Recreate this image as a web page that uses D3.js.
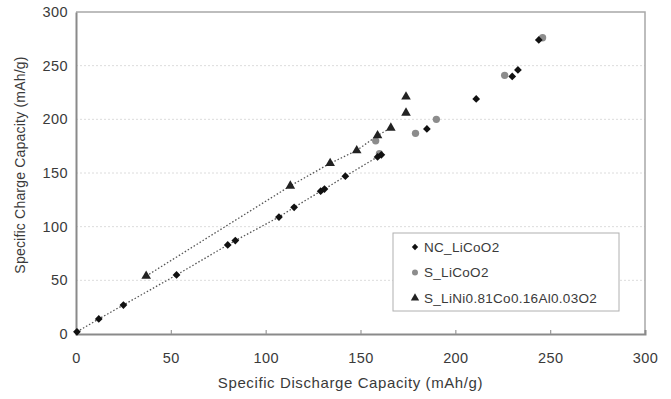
<!DOCTYPE html>
<html>
<head>
<meta charset="utf-8">
<script src="https://cdn.jsdelivr.net/npm/d3@7"></script>
<style>
  body { margin: 0; background: #fff; }
  svg { font-family: "Liberation Sans", Arial, sans-serif; }
</style>
</head>
<body>
<svg id="chart" width="671" height="399"></svg>
<script>
// NC_LiCoO2 (black diamonds)
const ncDischarge = [0.5, 12, 25, 53, 80, 84, 107, 115, 129, 131, 142, 159, 161, 185, 211, 230, 233, 244];
const ncCharge    = [2, 14, 27, 55, 83, 87, 109, 118, 133, 135, 147, 165, 167, 191, 219, 240, 246, 274];
const ncTrendCount = 13;

// S_LiCoO2 (grey circles)
const sDischarge = [158, 160, 179, 190, 226, 246];
const sCharge    = [180, 168, 187, 200, 241, 276];

// S_LiNi0.81Co0.16Al0.03O2 (black triangles)
const nDischarge = [37, 113, 134, 148, 159, 166, 174, 174];
const nCharge    = [54, 138, 159, 171, 185, 192, 206, 221];
const nTrendCount = 6;

const xTicks = [0, 50, 100, 150, 200, 250, 300];
const yTicks = [0, 50, 100, 150, 200, 250, 300];

const seriesNames = ["NC_LiCoO2", "S_LiCoO2", "S_LiNi0.81Co0.16Al0.03O2"];

const margins = {left: 76, top: 12, right: 26, bottom: 65};
const width = 671, height = 399;

const svg = d3.select("#chart");

const scaleX = d3.scaleLinear()
    .domain([0, 300])
    .range([margins.left, width - margins.right]);

const scaleY = d3.scaleLinear()
    .domain([0, 300])
    .range([height - margins.bottom, margins.top]);

// horizontal gridlines
svg.append("g")
    .selectAll("line")
    .data(yTicks.slice(1, -1))
    .enter()
    .append("line")
    .attr("x1", scaleX(0))
    .attr("x2", scaleX(300))
    .attr("y1", d => scaleY(d))
    .attr("y2", d => scaleY(d))
    .style("stroke", "#dcdcdc")
    .style("stroke-dasharray", "2,2");

// plot frame (top, right)
svg.append("path")
    .attr("d", `M${scaleX(0)},${scaleY(300)}H${scaleX(300)}V${scaleY(0)}`)
    .style("fill", "none")
    .style("stroke", "#a8a8a8")
    .style("stroke-width", 1.5);

// axes
const xAxis = d3.axisBottom(scaleX).tickValues(xTicks).tickSize(-4).tickPadding(19);
const yAxis = d3.axisLeft(scaleY).tickValues(yTicks).tickSize(0).tickPadding(8);

const gx = svg.append("g")
    .attr("transform", `translate(0, ${scaleY(0)})`)
    .call(xAxis);
const gy = svg.append("g")
    .attr("transform", `translate(${scaleX(0)}, 0)`)
    .call(yAxis);

[gx, gy].forEach(g => {
    g.select(".domain").style("stroke", "#8a8a8a").style("stroke-width", 2);
    g.selectAll(".tick line").style("stroke", "#9a9a9a").style("stroke-width", 1.2);
    g.selectAll(".tick text")
        .style("font-size", "14.5px")
        .style("letter-spacing", "0.4px")
        .style("fill", "#3a3a3a")
        .style("font-family", "Liberation Sans, Arial, sans-serif");
});
gx.selectAll(".tick").filter(d => d === 0 || d === 300).select("line").remove();

// axis titles
svg.append("text")
    .attr("x", (scaleX(0) + scaleX(300)) / 2 - 10)
    .attr("y", 388)
    .attr("text-anchor", "middle")
    .style("font-size", "15px")
    .style("letter-spacing", "0.6px")
    .style("fill", "#3a3a3a")
    .text("Specific Discharge Capacity (mAh/g)");

svg.append("text")
    .attr("transform", `translate(25, 165) rotate(-90)`)
    .attr("text-anchor", "middle")
    .style("font-size", "14px")
    .style("letter-spacing", "0.2px")
    .style("fill", "#3a3a3a")
    .text("Specific Charge Capacity (mAh/g)");

// dotted trend lines
const line = d3.line()
    .x(d => scaleX(d[0]))
    .y(d => scaleY(d[1]));

const ncPoints = d3.zip(ncDischarge, ncCharge);
const sPoints = d3.zip(sDischarge, sCharge);
const nPoints = d3.zip(nDischarge, nCharge);

[ncPoints.slice(0, ncTrendCount), nPoints.slice(0, nTrendCount)].forEach(pts => {
    svg.append("path")
        .datum(pts)
        .attr("d", line)
        .style("fill", "none")
        .style("stroke", "#555")
        .style("stroke-width", 1.3)
        .style("stroke-dasharray", "1.5,2");
});

// markers
const diamond = d3.symbol().type(d3.symbolSquare).size(30);
const circle = d3.symbol().type(d3.symbolCircle).size(42);
const triangle = d3.symbol().type(d3.symbolTriangle).size(40);

svg.append("g").selectAll("path")
    .data(sPoints)
    .enter()
    .append("path")
    .attr("d", circle)
    .attr("transform", d => `translate(${scaleX(d[0])}, ${scaleY(d[1])})`)
    .style("fill", "#8c8c8c");

svg.append("g").selectAll("path")
    .data(ncPoints)
    .enter()
    .append("path")
    .attr("d", diamond)
    .attr("transform", d => `translate(${scaleX(d[0])}, ${scaleY(d[1])}) rotate(45)`)
    .style("fill", "#111");

svg.append("g").selectAll("path")
    .data(nPoints)
    .enter()
    .append("path")
    .attr("d", triangle)
    .attr("transform", d => `translate(${scaleX(d[0])}, ${scaleY(d[1])})`)
    .style("fill", "#222");

// legend
const legend = svg.append("g").attr("transform", "translate(393, 233)");
legend.append("rect")
    .attr("width", 226)
    .attr("height", 78)
    .style("fill", "#fff")
    .style("stroke", "#b0b0b0");

const legendSymbols = [
    {sym: d3.symbol().type(d3.symbolSquare).size(20), fill: "#111", rot: 45},
    {sym: d3.symbol().type(d3.symbolCircle).size(28), fill: "#8c8c8c", rot: 0},
    {sym: d3.symbol().type(d3.symbolTriangle).size(30), fill: "#222", rot: 0}
];

const items = legend.selectAll("g.item")
    .data(seriesNames)
    .enter()
    .append("g")
    .attr("transform", (d, i) => `translate(0, ${14 + i * 25.5})`);

items.append("path")
    .attr("d", (d, i) => legendSymbols[i].sym())
    .attr("transform", (d, i) => `translate(22, 0) rotate(${legendSymbols[i].rot})`)
    .style("fill", (d, i) => legendSymbols[i].fill);

items.append("text")
    .attr("x", 31)
    .attr("dy", "0.35em")
    .style("font-size", "13.5px")
    .style("letter-spacing", "0.3px")
    .style("fill", "#3a3a3a")
    .text(d => d);
</script>
</body>
</html>
